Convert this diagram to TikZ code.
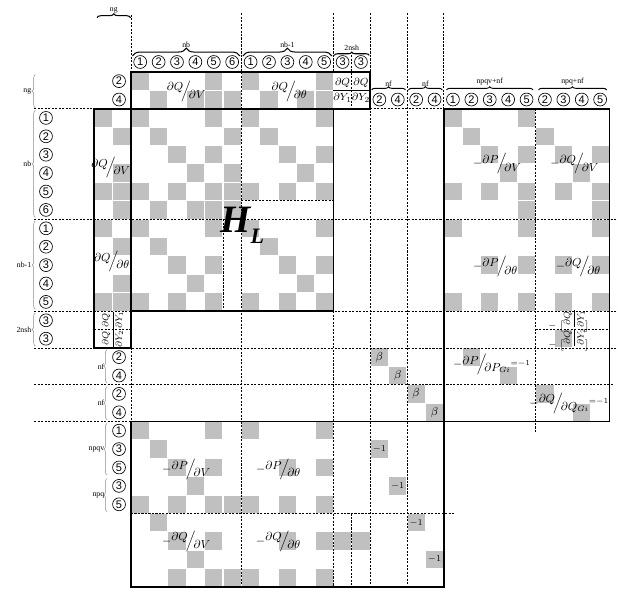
\documentclass[tikz,border=0pt]{standalone}
\usepackage{fontspec}
\setmainfont{Liberation Serif}
\setsansfont{Liberation Sans}
\usepackage{amsmath}
\usepackage{graphicx}
\usetikzlibrary{decorations.pathreplacing}
\definecolor{cellgray}{HTML}{C0C0C0}
\definecolor{bracegray}{HTML}{8C8C8C}
\tikzset{
  cell/.style={fill=cellgray},
  blockline/.style={line width=1.2pt},
  sepline/.style={dash pattern=on 1.6pt off 1.1pt, line width=0.5pt},
  idx/.style={circle, draw, line width=0.5pt, inner sep=0pt, minimum size=0.35cm,
    font=\sffamily\fontsize{8.5}{8.5}\selectfont},
  dimlab/.style={font=\fontsize{6}{6}\selectfont, inner sep=1pt},
  rowbrace/.style={decorate, decoration={brace, amplitude=2.5pt}, line width=0.4pt, bracegray},
  colbrace/.style={decorate, decoration={brace, amplitude=6pt}, line width=0.8pt},
  flatbrace/.style={decorate, decoration={brace, amplitude=2.5pt}, line width=0.7pt},
  deriv/.style={font=\fontsize{9}{9}\selectfont, inner sep=0pt},
  entry/.style={font=\fontsize{7}{7}\selectfont, inner sep=0pt},
  rotfrac/.style={font=\fontsize{7}{7}\selectfont, inner sep=0pt},
}
\newcommand{\slfrac}[2]{\raisebox{0.6ex}{$#1$}\!\Big/\!\raisebox{-0.8ex}{$#2$}}
\newcommand{\gcell}[2]{\fill[cell] (#1+0.03,#2+0.03) rectangle (#1+0.97,#2+0.97);}

\begin{document}
\begin{tikzpicture}[x=0.5cm, y=-0.5cm]
\useasboundingbox (-7.12,-3.91) rectangle (26.47,28.1);

% nonzero pattern: generator rows and columns
\foreach \c/\r in {0/0,4/0,6/0,10/0,1/1,3/1,4/1,5/1,7/1,9/1,10/1,
  -2/2,-2/6,-2/8,-2/12,-1/3,-1/5,-1/6,-1/7,-1/9,-1/11,-1/12} {\gcell{\c}{\r}}
% H_L
\foreach \c/\r in {0/2,4/2,6/2,10/2, 1/3,5/3,7/3, 2/4,4/4,8/4,10/4, 3/5,5/5,9/5,
  0/6,2/6,4/6,5/6,6/6,8/6,10/6, 1/7,3/7,4/7,5/7,
  0/8,4/8,6/8,10/8, 1/9,7/9, 2/10,4/10,8/10,10/10, 3/11,9/11,
  0/12,2/12,4/12,6/12,8/12,10/12} {\gcell{\c}{\r}}
% right block
\foreach \c/\r in {17/2,17/6,17/8,17/12, 18/3,18/15, 19/4,19/6,19/10,19/12, 20/5,20/16,
  21/2,21/4,21/6,21/7,21/8,21/10,21/12, 22/3,22/17, 23/4,23/6,23/10,23/12,23/14,
  24/5,24/18, 25/4,25/6,25/7,25/8,25/10,25/12} {\gcell{\c}{\r}}
% lower block
\foreach \c/\r in {0/19,4/19,6/19,10/19, 1/20, 2/21,4/21,8/21,10/21, 3/22,
  0/23,2/23,4/23,5/23,6/23,8/23,10/23, 1/24, 2/25,4/25,8/25,10/25,11/25,12/25,
  3/26, 2/27,4/27,5/27,6/27,8/27,10/27} {\gcell{\c}{\r}}
% beta and -1 entries
\foreach \k in {0,...,3} {
  \gcell{13+\k}{15+\k}
  \node[entry, font=\fontsize{9}{9}\selectfont] (beta\k) at (13.5+\k,15.5+\k) {$\beta$};
  \gcell{13+\k}{20+2*\k}
  \node[entry] (one\k) at (13.5+\k,20.5+2*\k) {$-1$};
}

% separators
\foreach \c in {6,13,15} \draw[sepline] (\c,-3.2) -- (\c,28);
\draw[sepline] (0,-3.1) -- (0,0) (0,15) -- (0,19);
\draw[sepline] (11,-3.2) -- (11,0) (11,13) -- (11,28);
\draw[sepline] (12,-0.9) -- (12,2) (12,24) -- (12,28);
\draw[sepline] (17,-3.2) -- (17,2);
\draw[sepline] (22,2) -- (22,19.65);
\draw[sepline] (5,8) -- (5,13) (6,7) -- (11,7);
\foreach \r in {8,13,15} \draw[sepline] (-5.25,\r) -- (26.47,\r);
\draw[sepline] (-5.25,17) -- (26.2,17);
\draw[sepline] (-5.25,2) -- (-2,2) (13,2) -- (17,2);
\draw[sepline] (-5.25,19) -- (0,19) (0,24) -- (17.65,24);
\draw[sepline] (-2,14) -- (0,14) (22,14) -- (26,14);

% blocks
\draw[blockline] (0,0) rectangle (13,2);
\draw[blockline] (0,2) rectangle (11,13);
\draw[blockline] (-2,2) rectangle (0,15);
\draw[blockline] (17,2) rectangle (26,19);
\draw[blockline] (0,19) rectangle (17,28);

% column indices
\foreach \n [count=\i from 0] in {1,...,6} \node[idx] (cv\n) at (\i+0.5,-0.54) {\n};
\foreach \n [count=\i from 6] in {1,...,5} \node[idx] (ct\n) at (\i+0.5,-0.54) {\n};
\node[idx] (cy1) at (11.5,-0.54) {3};
\node[idx] (cy2) at (12.5,-0.54) {3};
\foreach \n [count=\i from 13] in {2,4} \node[idx] (cfa\n) at (\i+0.5,1.5) {\n};
\foreach \n [count=\i from 15] in {2,4} \node[idx] (cfb\n) at (\i+0.5,1.5) {\n};
\foreach \n [count=\i from 17] in {1,...,5} \node[idx] (cp\n) at (\i+0.5,1.5) {\n};
\foreach \n [count=\i from 22] in {2,...,5} \node[idx] (cq\n) at (\i+0.5,1.5) {\n};

\draw[colbrace] (0.08,-0.87) -- (5.92,-0.87) node[midway, above=5pt, dimlab] (lnb) {nb};
\draw[colbrace] (6.08,-0.87) -- (10.92,-0.87) node[midway, above=5pt, dimlab] (lnbm) {nb-1};
\draw[colbrace, decoration={brace, amplitude=2.5pt}] (11.05,-0.9) -- (12.95,-0.9) node[midway, above=2pt, dimlab] (lsh) {2nsh};
\draw[colbrace, decoration={brace, amplitude=3pt}] (-1.85,-2.95) -- (-0.02,-2.95) node[midway, above=2pt, dimlab] (lng) {ng};
\draw[flatbrace] (13.08,0.98) -- (14.92,0.98) node[midway, above=1pt, dimlab] (lnfa) {nf};
\draw[flatbrace] (15.08,0.98) -- (16.92,0.98) node[midway, above=1pt, dimlab] (lnfb) {nf};
\draw[flatbrace] (17.15,0.98) -- (21.85,0.98) node[midway, above=2pt, dimlab] (lpv) {npqv+nf};
\draw[flatbrace] (22.15,0.98) -- (25.85,0.98) node[midway, above=2pt, dimlab] (lpq) {npq+nf};

% row indices
\node[idx] (rg2) at (-0.65,0.5) {2};
\node[idx] (rg4) at (-0.65,1.5) {4};
\foreach \n in {1,...,6} \node[idx] (rv\n) at (-4.62,\n+1.5) {\n};
\foreach \n in {1,...,5} \node[idx] (rt\n) at (-4.62,\n+7.5) {\n};
\node[idx] (ry1) at (-4.62,13.5) {3};
\node[idx] (ry2) at (-4.62,14.5) {3};
\node[idx] (rfa2) at (-0.65,15.5) {2};
\node[idx] (rfa4) at (-0.65,16.5) {4};
\node[idx] (rfb2) at (-0.65,17.5) {2};
\node[idx] (rfb4) at (-0.65,18.5) {4};
\foreach \n [count=\i from 19] in {1,3,5} \node[idx] (rpv\n) at (-0.65,\i+0.5) {\n};
\foreach \n [count=\i from 22] in {3,5} \node[idx] (rpq\n) at (-0.65,\i+0.5) {\n};

\draw[rowbrace] (-5.2,1.95) -- (-5.2,0.15) node[midway, left=2pt, dimlab, black] (sng) {ng};
\draw[rowbrace] (-5.2,7.9) -- (-5.2,2.1) node[midway, left=2pt, dimlab, black] (snb) {nb};
\draw[rowbrace] (-5.2,12.9) -- (-5.2,8.1) node[midway, left=2pt, dimlab, black] (snbm) {nb-1};
\draw[rowbrace] (-5.2,14.9) -- (-5.2,13.1) node[midway, left=2pt, dimlab, black] (ssh) {2nsh};
\draw[rowbrace] (-1.3,16.9) -- (-1.3,15.1) node[midway, left=1pt, dimlab, black] (snfa) {nf};
\draw[rowbrace] (-1.3,18.9) -- (-1.3,17.1) node[midway, left=1pt, dimlab, black] (snfb) {nf};
\draw[rowbrace] (-1.3,21.9) -- (-1.3,19.1) node[midway, left=1pt, dimlab, black] (spv) {npqv};
\draw[rowbrace] (-1.3,23.9) -- (-1.3,22.1) node[midway, left=1pt, dimlab, black] (spq) {npq};

% block labels
\node[deriv] (tqv) at (3,1.05) {$\slfrac{\partial Q}{\partial V}$};
\node[deriv] (tqt) at (8.6,1.05) {$\slfrac{\partial Q}{\partial \theta}$};
\node[deriv, font=\fontsize{8}{8}\selectfont] (ty1) at (11.5,1) {$\dfrac{\partial Q}{\partial Y_1}$};
\node[deriv, font=\fontsize{8}{8}\selectfont] (ty2) at (12.5,1) {$\dfrac{\partial Q}{\partial Y_2}$};
\node[deriv] (lqv) at (-1.1,5.2) {$\slfrac{\partial Q}{\partial V}$};
\node[deriv] (lqt) at (-1.05,10.3) {$\slfrac{\partial Q}{\partial \theta}$};
\node[rotfrac, rotate=90] (ly1) at (-1,13.5) {$\dfrac{\partial Q}{\partial Y_1}$};
\node[rotfrac, rotate=90] (ly2) at (-1,14.5) {$\dfrac{\partial Q}{\partial Y_2}$};
\node[anchor=base west, inner sep=0pt] (hl) at (4.85,8.75)
  {\fontsize{30}{30}\selectfont\bfseries\itshape H\raisebox{-8pt}{\fontsize{17}{17}\selectfont L}};

\node[deriv] (rpv) at (19.9,5) {$-\slfrac{\partial P}{\partial V}$};
\node[deriv] (rqv) at (24.1,5) {$-\slfrac{\partial Q}{\partial V}$};
\node[deriv] (rpt) at (19.8,10.6) {$-\slfrac{\partial P}{\partial \theta}$};
\node[deriv] (rqt) at (24.3,10.6) {$-\slfrac{\partial Q}{\partial \theta}$};
\node[rotfrac] (rry1) at (23.8,13.5) {$-\;\bigl[\rotatebox{90}{$\dfrac{\partial Q}{\partial Y_1}$}\bigr]$};
\node[rotfrac] (rry2) at (23.8,14.5) {$-\;\bigl[\rotatebox{90}{$\dfrac{\partial Q}{\partial Y_2}$}\bigr]$};
\node[deriv] (rpg) at (19.6,15.9) {$-\slfrac{\partial P}{\partial P_{Gi}}\raisebox{0.4ex}{$\scriptstyle =-1$}$};
\node[deriv] (rqg) at (23.8,18) {$-\slfrac{\partial Q}{\partial Q_{Gi}}\raisebox{0.4ex}{$\scriptstyle =-1$}$};

\node[deriv] (bpv) at (3,21.6) {$-\slfrac{\partial P}{\partial V}$};
\node[deriv] (bpt) at (8,21.6) {$-\slfrac{\partial P}{\partial \theta}$};
\node[deriv] (bqv) at (3,25.5) {$-\slfrac{\partial Q}{\partial V}$};
\node[deriv] (bqt) at (8,25.5) {$-\slfrac{\partial Q}{\partial \theta}$};
\end{tikzpicture}
\end{document}
